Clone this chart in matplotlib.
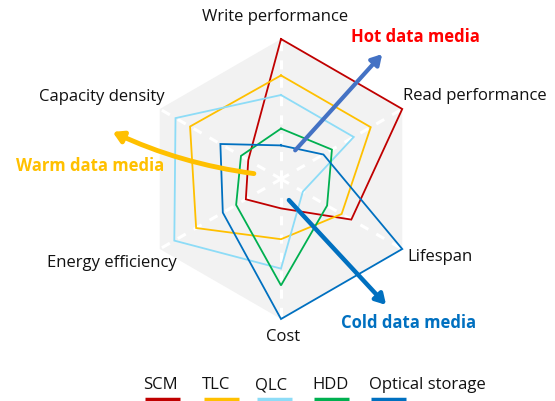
import matplotlib
matplotlib.use("Agg")
import matplotlib.pyplot as plt
from matplotlib.patches import Polygon, FancyArrowPatch
from matplotlib.lines import Line2D
import numpy as np

plt.rcParams["font.family"] = ["Open Sans", "Noto Sans", "DejaVu Sans"]

# axes, counter-clockwise from the top
axis_names = ["Write performance", "Capacity density", "Energy efficiency",
              "Cost", "Lifespan", "Read performance"]
axis_angles = [90, 150, 210, 270, 330, 30]

series_names = ["SCM", "TLC", "QLC", "HDD", "Optical storage"]
series_colors = ["#C00000", "#FFC000", "#8DDCF7", "#00B050", "#0070C0"]

# values per axis, same order as axis_names
scm = [1.0, 0.27, 0.29, 0.21, 0.58, 1.0]
tlc = [0.74, 0.75, 0.70, 0.43, 0.50, 0.74]
qlc = [0.60, 0.87, 0.88, 0.64, 0.18, 0.60]
hdd = [0.36, 0.33, 0.37, 0.76, 0.38, 0.42]
optical = [0.24, 0.50, 0.48, 1.0, 1.0, 0.35]
series_values = [scm, tlc, qlc, hdd, optical]

theta = np.deg2rad(axis_angles)


def to_xy(values):
    r = np.asarray(values, dtype=float)
    x = r * np.cos(theta)
    y = r * np.sin(theta)
    return np.append(x, x[0]), np.append(y, y[0])


W, H = 555, 402
cx, cy, R = 281, 180, 140  # centre and radius in pixels

fig = plt.figure(figsize=(W / 100, H / 100), dpi=100)
ax = fig.add_axes([0, 0, 1, 1])
ax.set_xlim(-cx / R, (W - cx) / R)
ax.set_ylim(-(H - cy) / R, cy / R)
ax.axis("off")

# grey hexagon and dashed spokes
hx, hy = to_xy([1.0] * 6)
ax.add_patch(Polygon(np.column_stack([hx[:-1], hy[:-1]]), closed=True,
                     facecolor="#F2F2F2", edgecolor="none", zorder=0))
for t in theta:
    ax.plot([0, np.cos(t)], [0, np.sin(t)], color="white", lw=2.2,
            ls=(0, (3, 3)), zorder=1)

for vals, col in zip(series_values, series_colors):
    x, y = to_xy(vals)
    ax.plot(x, y, color=col, lw=1.3, zorder=3, solid_joinstyle="miter")

fs = 12
# axis labels
label_pos = {
    "Write performance": (-0.04, 1.166, "center"),
    "Read performance": (0.874, 0.602, "left"),
    "Lifespan": (0.902, -0.548, "left"),
    "Cost": (0.014, -1.119, "center"),
    "Energy efficiency": (-0.745, -0.595, "right"),
    "Capacity density": (-0.829, 0.593, "right"),
}
for name in axis_names:
    x, y, ha = label_pos[name]
    ax.text(x, y, name, ha=ha, va="center", fontsize=fs, color="#111111")

# arrows for media tiers
ax.add_patch(FancyArrowPatch((0.088, 0.19), (0.736, 0.907),
                             arrowstyle="-|>,head_length=6,head_width=3.5",
                             color="#4472C4", lw=3, zorder=4))
ax.add_patch(FancyArrowPatch((0.043, -0.136), (0.764, -0.914),
                             arrowstyle="-|>,head_length=6,head_width=3.5",
                             color="#0070C0", lw=3.2, zorder=4))
ax.add_patch(FancyArrowPatch((-0.174, 0.036), (-1.221, 0.345),
                             arrowstyle="-|>,head_length=6,head_width=3.5",
                             connectionstyle="arc3,rad=-0.08",
                             color="#FFC000", lw=3.5, zorder=4))

ax.text(0.957, 1.024, "Hot data media", ha="center", va="center",
        fontsize=fs, fontweight="bold", color="#FF0000")
ax.text(0.914, -1.024, "Cold data media", ha="center", va="center",
        fontsize=fs, fontweight="bold", color="#0070C0")
ax.text(-1.364, 0.10, "Warm data media", ha="center", va="center",
        fontsize=fs, fontweight="bold", color="#FFC000")

# legend: label with a short coloured bar underneath
legend_x = [143, 202, 255, 312, 369]  # left edge of each entry, px
for lx, name, col in zip(legend_x, series_names, series_colors):
    x0 = (lx - cx) / R
    ax.text(x0, (cy - 385) / R, name, ha="left", va="center",
            fontsize=fs, color="#111111")
    ax.add_line(Line2D([x0 + 2 / R, x0 + 37 / R], [(cy - 400) / R] * 2,
                       color=col, lw=2.5, solid_capstyle="butt"))

fig.savefig("out.png", dpi=100)
